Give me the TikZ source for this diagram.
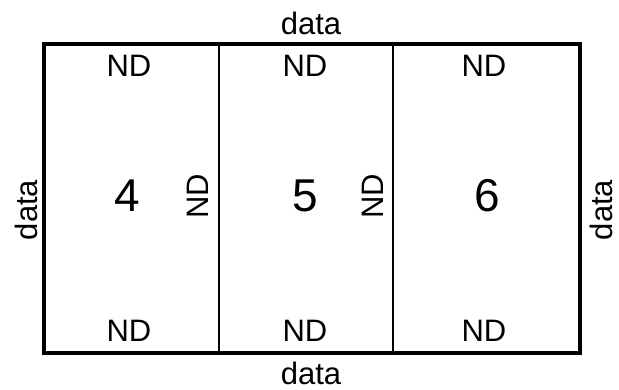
\documentclass[tikz,border=0pt]{standalone}
\usepackage{fontspec}
\setmainfont{Liberation Sans}
\begin{document}
\begin{tikzpicture}[x=1pt,y=-1pt,
  lbl/.style={inner sep=0pt,font=\fontsize{31}{31}\selectfont},
  num/.style={inner sep=0pt,font=\fontsize{46}{46}\selectfont},
  outer/.style={line width=4.5pt},
  inner/.style={line width=2pt}]
\useasboundingbox (0,0) rectangle (619,390);
\coordinate (tl) at (44,44);
\coordinate (br) at (580,353);
\coordinate (a1) at (219,44);
\coordinate (a2) at (219,353);
\coordinate (b1) at (393,44);
\coordinate (b2) at (393,353);
\draw[inner] (a1) -- (a2);
\draw[inner] (b1) -- (b2);
\draw[outer] (tl) rectangle (br);
\node[lbl] (dt) at (311,23) {data};
\node[lbl] (db) at (311,373) {data};
\node[lbl,rotate=90] (dl) at (26,210) {data};
\node[lbl,rotate=90] (dr) at (601,210) {data};
\node[lbl] (n1t) at (129,66) {ND};
\node[lbl] (n2t) at (305,66) {ND};
\node[lbl] (n3t) at (484,66) {ND};
\node[lbl] (n1b) at (129,331) {ND};
\node[lbl] (n2b) at (305,331) {ND};
\node[lbl] (n3b) at (484,331) {ND};
\node[num] (c4) at (127,196) {4};
\node[num] (c5) at (305,196) {5};
\node[num] (c6) at (487,196) {6};
\node[lbl,rotate=90] (v1) at (198,196) {ND};
\node[lbl,rotate=90] (v2) at (373,196) {ND};
\end{tikzpicture}
\end{document}
